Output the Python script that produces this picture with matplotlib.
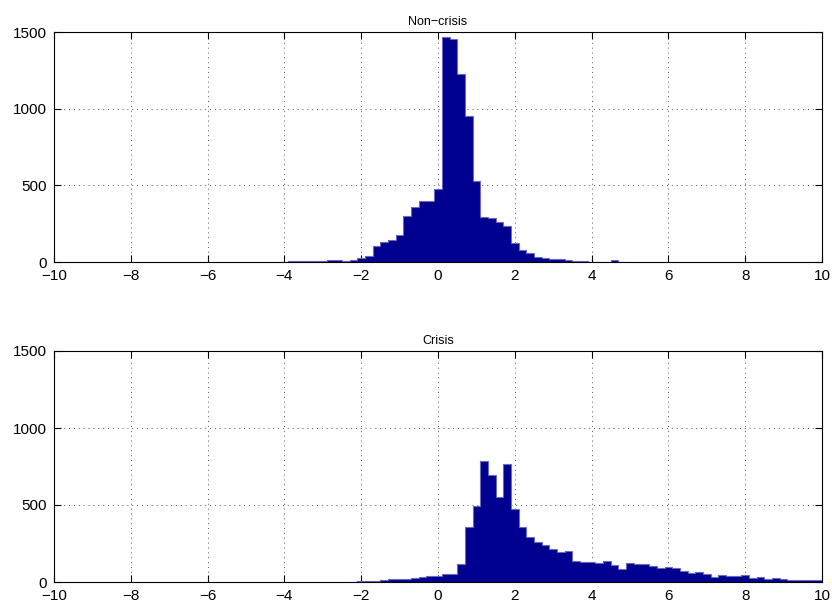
import matplotlib
matplotlib.use("Agg")
import matplotlib.pyplot as plt
import numpy as np

# ---- data (bin centres, width 0.2) ----
noncrisis_centers = [-4.0, -3.8, -3.6, -3.4, -3.2, -3.0, -2.8, -2.6, -2.4, -2.2,
                     -2.0, -1.8, -1.6, -1.4, -1.2, -1.0, -0.8, -0.6, -0.4, -0.2,
                     0.0, 0.2, 0.4, 0.6, 0.8, 1.0, 1.2, 1.4, 1.6, 1.8,
                     2.0, 2.2, 2.4, 2.6, 2.8, 3.0, 3.2, 3.4, 3.6, 3.8,
                     4.0, 4.2, 4.4, 4.6, 4.8]
noncrisis_counts = [3, 8, 6, 5, 5, 4, 13, 13, 6, 15,
                    24, 39, 107, 128, 143, 176, 300, 361, 396, 400,
                    474, 1470, 1454, 1228, 952, 526, 296, 287, 263, 235,
                    126, 78, 61, 33, 28, 22, 20, 11, 9, 6,
                    3, 2, 2, 12, 2]

crisis_centers = [-2.2, -2.0, -1.8, -1.6, -1.4, -1.2, -1.0, -0.8, -0.6, -0.4,
                  -0.2, 0.0, 0.2, 0.4, 0.6, 0.8, 1.0, 1.2, 1.4, 1.6,
                  1.8, 2.0, 2.2, 2.4, 2.6, 2.8, 3.0, 3.2, 3.4, 3.6,
                  3.8, 4.0, 4.2, 4.4, 4.6, 4.8, 5.0, 5.2, 5.4, 5.6,
                  5.8, 6.0, 6.2, 6.4, 6.6, 6.8, 7.0, 7.2, 7.4, 7.6,
                  7.8, 8.0, 8.2, 8.4, 8.6, 8.8, 9.0, 9.2, 9.4, 9.6,
                  9.8, 10.0]
crisis_counts = [2, 4, 9, 9, 11, 17, 17, 19, 24, 35,
                 37, 37, 50, 52, 117, 357, 496, 784, 697, 554,
                 768, 472, 357, 292, 262, 238, 212, 195, 201, 136,
                 128, 128, 121, 139, 108, 87, 126, 115, 115, 102,
                 93, 95, 89, 74, 61, 67, 54, 35, 48, 41,
                 41, 43, 26, 30, 19, 28, 19, 15, 14, 15,
                 14, 13]

titles = ["Non\u2212crisis", "Crisis"]
xticks = [-10, -8, -6, -4, -2, 0, 2, 4, 6, 8, 10]
yticks = [0, 500, 1000, 1500]
bin_width = 0.2

plt.rcParams['font.family'] = ['Liberation Sans', 'DejaVu Sans']

fig = plt.figure(figsize=(8.32, 6.04), dpi=100)
W, H = 832, 604
def rect(l, t, r, b):
    return [l / W, 1 - b / H, (r - l) / W, (b - t) / H]

ax1 = fig.add_axes(rect(54, 32, 822, 262))
ax2 = fig.add_axes(rect(54, 351, 822, 582))

face = '#000090'
outline = '#6a6abf'

for ax, centers, counts, title in [(ax1, noncrisis_centers, noncrisis_counts, titles[0]),
                                   (ax2, crisis_centers, crisis_counts, titles[1])]:
    c = np.asarray(centers, dtype=float)
    v = np.asarray(counts, dtype=float)
    edges = np.concatenate([c - bin_width / 2, [c[-1] + bin_width / 2]])
    # filled histogram (one polygon, no internal bar edges)
    ax.stairs(v, edges, fill=True, color=face, linewidth=0, zorder=3)
    # lighter outline along the top of the histogram
    ax.stairs(v, edges, color=outline, linewidth=0.8, zorder=4)
    ax.set_xlim(-10, 10)
    ax.set_ylim(0, 1500)
    ax.set_xticks(xticks)
    ax.set_xticklabels([str(t).replace('-', '\u2212') for t in xticks])
    ax.set_yticks(yticks)
    ax.set_yticklabels([str(t) for t in yticks])
    ax.grid(True, linestyle=(0, (1, 4)), color='#555555', linewidth=0.7, zorder=1)
    ax.set_axisbelow(True)
    ax.tick_params(direction='in', top=True, right=True, length=5, width=0.8,
                   labelsize=11, colors='black')
    ax.tick_params(axis='x', pad=5)
    ax.tick_params(axis='y', pad=5)
    for s in ax.spines.values():
        s.set_linewidth(0.8)
        s.set_zorder(5)
    ax.set_title(title, fontsize=9, pad=5)

fig.savefig("out.png", dpi=100, facecolor='white')
